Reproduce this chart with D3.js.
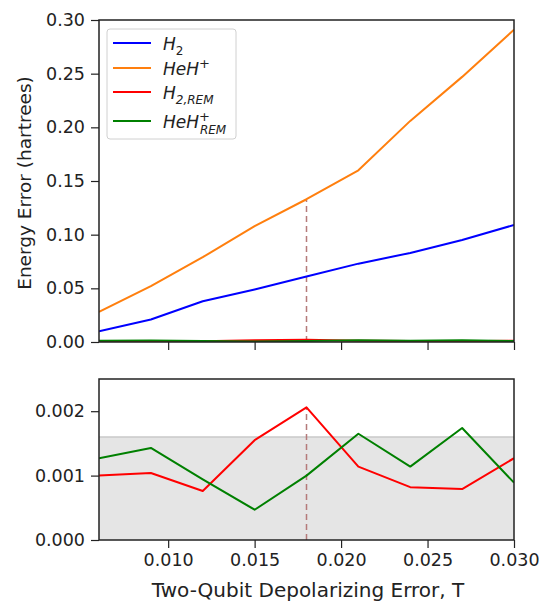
<!DOCTYPE html>
<html>
<head>
<meta charset="utf-8">
<script src="https://cdn.jsdelivr.net/npm/d3@7"></script>
<style>
  body { margin: 0; background: #fff; }
  text { font-family: "DejaVu Sans", sans-serif; fill: #222; }
</style>
</head>
<body>
<div id="chart"></div>
<script>
// Data
var errT = [0.006, 0.009, 0.012, 0.015, 0.018, 0.021, 0.024, 0.027, 0.030];
var h2 = [0.010, 0.021, 0.038, 0.049, 0.061, 0.073, 0.083, 0.095, 0.109];
var heh = [0.028, 0.052, 0.079, 0.108, 0.133, 0.160, 0.206, 0.247, 0.291];
var h2Rem = [0.00100, 0.00104, 0.00076, 0.00155, 0.00206, 0.00114, 0.00082, 0.00079, 0.00127];
var hehRem = [0.00127, 0.00143, 0.00094, 0.00047, 0.00100, 0.00165, 0.00114, 0.00174, 0.00089];
var xTicks = [0.010, 0.015, 0.020, 0.025, 0.030];
var topTicks = [0, 0.05, 0.10, 0.15, 0.20, 0.25, 0.30];
var botTicks = [0, 0.001, 0.002];
var bandTop = 0.0016;
var markT = 0.018;

var W = 539, H = 603;
var left = 99, right = 514;
var top1 = 20, bot1 = 342;
var top2 = 379, bot2 = 540;

var svg = d3.select("#chart").append("svg")
    .attr("width", W).attr("height", H);

var x = d3.scaleLinear().domain([0.006, 0.030]).range([left, right]);
var y1 = d3.scaleLinear().domain([0, 0.30]).range([bot1, top1]);
var y2 = d3.scaleLinear().domain([0, 0.0025]).range([bot2, top2]);

var colors = {h2: "#0000ff", heh: "#ff7f0e", h2Rem: "#ff0000", hehRem: "#008000"};
var dashCol = "#b57a7a";

function drawLine(g, ys, yScale, col) {
  var line = d3.line().x((d, i) => x(errT[i])).y(d => yScale(d));
  g.append("path").datum(ys)
    .attr("d", line)
    .attr("fill", "none")
    .attr("stroke", col)
    .attr("stroke-width", 2)
    .attr("stroke-linejoin", "round");
}

function styleAxis(g, size) {
  g.select(".domain").remove();
  g.selectAll(".tick line").attr("stroke", "#222").attr("stroke-width", 1.2);
  g.selectAll(".tick text").style("font-size", size + "px").attr("fill", "#222");
}

// ---- top panel
var p1 = svg.append("g");
p1.append("clipPath").attr("id", "c1").append("rect")
  .attr("x", left).attr("y", top1).attr("width", right - left).attr("height", bot1 - top1);
var l1 = p1.append("g").attr("clip-path", "url(#c1)");

l1.append("line")
  .attr("x1", x(markT)).attr("x2", x(markT))
  .attr("y1", y1(0)).attr("y2", y1(heh[errT.indexOf(markT)]))
  .attr("stroke", dashCol).attr("stroke-width", 1.5).attr("stroke-dasharray", "6,4");

drawLine(l1, h2, y1, colors.h2);
drawLine(l1, heh, y1, colors.heh);
drawLine(l1, h2Rem, y1, colors.h2Rem);
drawLine(l1, hehRem, y1, colors.hehRem);

var ax1 = p1.append("g").attr("transform", `translate(0,${bot1})`)
  .call(d3.axisBottom(x).tickValues(xTicks).tickSize(8).tickFormat(""));
styleAxis(ax1, 17.5);
var ay1 = p1.append("g").attr("transform", `translate(${left},0)`)
  .call(d3.axisLeft(y1).tickValues(topTicks).tickSize(8).tickPadding(6).tickFormat(d3.format(".2f")));
styleAxis(ay1, 17.5);

p1.append("rect").attr("x", left).attr("y", top1)
  .attr("width", right - left).attr("height", bot1 - top1)
  .attr("fill", "none").attr("stroke", "#222").attr("stroke-width", 1.5);

p1.append("text")
  .attr("transform", `translate(31,${(top1 + bot1) / 2 + 2}) rotate(-90)`)
  .attr("text-anchor", "middle")
  .style("font-size", "18.5px")
  .text("Energy Error (hartrees)");

// legend
var leg = p1.append("g");
leg.append("rect").attr("x", 107).attr("y", 29).attr("width", 129).attr("height", 110)
  .attr("rx", 3).attr("fill", "#fff").attr("stroke", "#d0d0d0").attr("stroke-width", 1);
var legItems = [
  {col: colors.h2, y: 43, base: "H", sub: "2", sup: ""},
  {col: colors.heh, y: 68, base: "HeH", sub: "", sup: "+"},
  {col: colors.h2Rem, y: 92, base: "H", sub: "2,REM", sup: ""},
  {col: colors.hehRem, y: 121, base: "HeH", sub: "REM", sup: "+"}
];
legItems.forEach(function(it) {
  leg.append("line").attr("x1", 113).attr("x2", 151).attr("y1", it.y).attr("y2", it.y)
    .attr("stroke", it.col).attr("stroke-width", 2);
  var t = leg.append("text").attr("x", 163).attr("y", it.y + 7)
    .style("font-size", "17px").style("font-style", "italic");
  t.append("tspan").text(it.base);
  if (it.sup) {
    t.append("tspan").attr("dy", -7).style("font-size", "13px").style("font-style", "normal").text(it.sup);
    if (it.sub) t.append("tspan").attr("dx", -10).attr("dy", 13).style("font-size", "12px").text(it.sub);
  } else if (it.sub) {
    t.append("tspan").attr("dy", 5).style("font-size", "12px").style("font-style", it.sub === "2" ? "normal" : "italic").text(it.sub);
  }
});

// ---- bottom panel
var p2 = svg.append("g");
p2.append("clipPath").attr("id", "c2").append("rect")
  .attr("x", left).attr("y", top2).attr("width", right - left).attr("height", bot2 - top2);
var l2 = p2.append("g").attr("clip-path", "url(#c2)");

l2.append("rect")
  .attr("x", left).attr("width", right - left)
  .attr("y", y2(bandTop)).attr("height", y2(0) - y2(bandTop))
  .attr("fill", "#e5e5e5");
l2.append("line")
  .attr("x1", left).attr("x2", right).attr("y1", y2(bandTop)).attr("y2", y2(bandTop))
  .attr("stroke", "#c8c8c8").attr("stroke-width", 1.5);

l2.append("line")
  .attr("x1", x(markT)).attr("x2", x(markT))
  .attr("y1", y2(0)).attr("y2", y2(h2Rem[errT.indexOf(markT)]))
  .attr("stroke", dashCol).attr("stroke-width", 1.5).attr("stroke-dasharray", "6,4");

drawLine(l2, h2Rem, y2, colors.h2Rem);
drawLine(l2, hehRem, y2, colors.hehRem);

var ax2 = p2.append("g").attr("transform", `translate(0,${bot2})`)
  .call(d3.axisBottom(x).tickValues(xTicks).tickSize(8).tickPadding(6).tickFormat(d3.format(".3f")));
styleAxis(ax2, 17.5);
var ay2 = p2.append("g").attr("transform", `translate(${left},0)`)
  .call(d3.axisLeft(y2).tickValues(botTicks).tickSize(8).tickPadding(6).tickFormat(d3.format(".3f")));
styleAxis(ay2, 17.5);

p2.append("rect").attr("x", left).attr("y", top2)
  .attr("width", right - left).attr("height", bot2 - top2)
  .attr("fill", "none").attr("stroke", "#222").attr("stroke-width", 1.5);

p2.append("text")
  .attr("x", 308).attr("y", 597)
  .attr("text-anchor", "middle")
  .style("font-size", "20px")
  .text("Two-Qubit Depolarizing Error, T");
</script>
</body>
</html>
